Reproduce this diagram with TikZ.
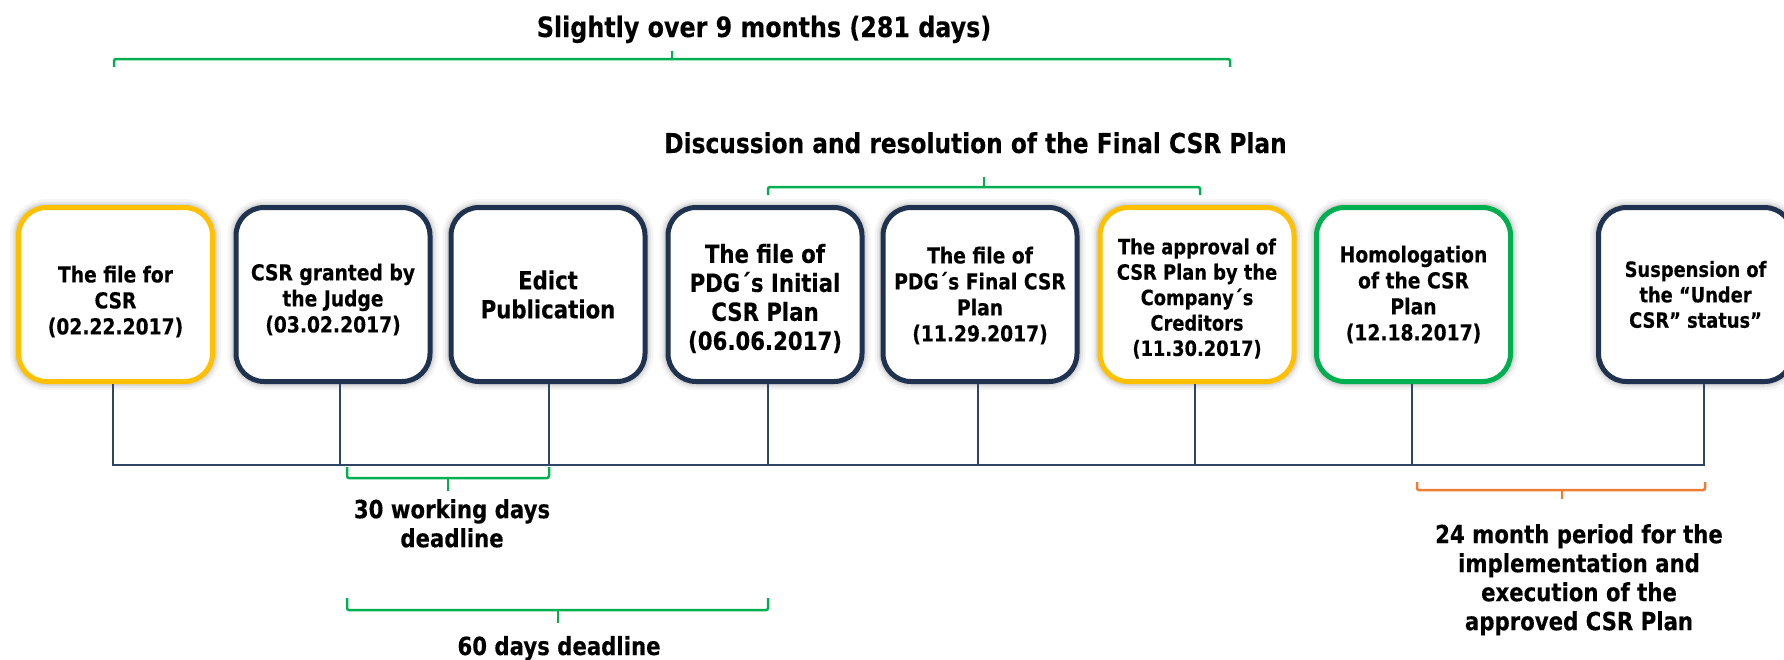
\documentclass[tikz,border=0pt]{standalone}
\usepackage{fontspec}
\setmainfont{DejaVu Sans}[FakeStretch=0.85, BoldFeatures={FakeBold=0.3}]
\definecolor{navy}{HTML}{1F3350}
\definecolor{tline}{HTML}{2E4566}
\definecolor{gold}{HTML}{FFC000}
\definecolor{grn}{HTML}{00B050}
\definecolor{orng}{HTML}{ED7D31}
\begin{document}
\begin{tikzpicture}[x=1pt,y=1pt,
  evbox/.style={draw=navy, line width=5pt, rounded corners=28pt, fill=white,
    minimum width=194pt, minimum height=174pt, inner sep=0pt,
    preaction={draw=black, draw opacity=0.04, line width=17pt},
    preaction={draw=black, draw opacity=0.06, line width=12pt},
    preaction={draw=black, draw opacity=0.08, line width=8pt}},
  boxtxt/.style={inner sep=0pt, align=center, font=\bfseries\fontsize{22}{26}\selectfont},
  bigtxt/.style={font=\bfseries\fontsize{25}{29}\selectfont},
  smalltxt/.style={font=\bfseries\fontsize{21}{25.4}\selectfont},
  title/.style={font=\bfseries\fontsize{28}{32}\selectfont, inner sep=0pt},
  lbl/.style={font=\bfseries\fontsize{25}{29}\selectfont, inner sep=0pt, align=center},
  brk/.style={line width=2.5pt, rounded corners=2pt},
  tl/.style={draw=tline, line width=1.6pt}]
\useasboundingbox (0,0) rectangle (1784,-659);

% event boxes
\node[evbox, draw=gold] (b1) at (115.5,-294.5) {};
\node[evbox] (b2) at (333,-294.5) {};
\node[evbox] (b3) at (548,-294.5) {};
\node[evbox] (b4) at (765,-294.5) {};
\node[evbox] (b5) at (980,-294.5) {};
\node[evbox, draw=gold] (b6) at (1197,-294.5) {};
\node[evbox, draw=grn] (b7) at (1413.5,-294.5) {};
\node[evbox] (b8) at (1695.5,-294.5) {};

% box texts
\node[boxtxt] (b1t) at ([yshift=-7]b1.center) {The file for\\CSR\\(02.22.2017)};
\node[boxtxt] (b2t) at ([yshift=-5]b2.center) {CSR granted by\\the Judge\\(03.02.2017)};
\node[boxtxt, bigtxt] (b3t) at (b3.center) {Edict\\Publication};
\node[boxtxt, bigtxt] (b4t) at ([yshift=-4]b4.center) {The file of\\PDG´s Initial\\CSR Plan\\(06.06.2017)};
\node[boxtxt] (b5t) at ([yshift=-1]b5.center) {The file of\\PDG´s Final CSR\\Plan\\(11.29.2017)};
\node[boxtxt, smalltxt] (b6t) at ([yshift=-4]b6.center) {The approval of\\CSR Plan by the\\Company´s\\Creditors\\(11.30.2017)};
\node[boxtxt] (b7t) at (b7.center) {Homologation\\of the CSR\\Plan\\(12.18.2017)};
\node[boxtxt, smalltxt] (b8t) at (b8.center) {Suspension of\\the “Under\\CSR” status”};

% timeline
\coordinate (t1) at (113,-465);
\coordinate (t2) at (340,-465);
\coordinate (t3) at (549,-465);
\coordinate (t4) at (768,-465);
\coordinate (t5) at (978,-465);
\coordinate (t6) at (1195,-465);
\coordinate (t7) at (1412,-465);
\coordinate (t8) at (1704,-465);
\foreach \i in {1,...,8}{\draw[tl] (t\i |- b\i.south) -- (t\i);}
\draw[tl, line cap=rect] (t1) -- (t8);

% titles
\node[title, anchor=base] (ttl1) at (764,-37) {Slightly over 9 months (281 days)};
\node[title, anchor=base, font=\bfseries\fontsize{27.4}{32}\selectfont] (ttl2) at (975.5,-153) {Discussion and resolution of the Final CSR Plan};

% brackets
\draw[brk, draw=grn] (114,-67) -- (114,-59) -- (1230,-59) -- (1230,-67);
\draw[brk, draw=grn] (672,-59) -- (672,-51);
\draw[brk, draw=grn] (768,-195) -- (768,-187) -- (1200,-187) -- (1200,-195);
\draw[brk, draw=grn] (984,-187) -- (984,-177);
\draw[brk, draw=grn] (347,-467) -- (347,-478) -- (549,-478) -- (549,-467);
\draw[brk, draw=grn] (448,-478) -- (448,-491);
\draw[brk, draw=grn] (347,-598) -- (347,-610) -- (768,-610) -- (768,-598);
\draw[brk, draw=grn] (558,-610) -- (558,-623);
\draw[brk, draw=orng] (1417,-482) -- (1417,-490) -- (1705,-490) -- (1705,-482);
\draw[brk, draw=orng] (1562,-490) -- (1562,-499);

% labels
\node[lbl, anchor=north] (l30) at (452,-499) {30 working days\\deadline};
\node[lbl, anchor=base] (l60) at (559,-655) {60 days deadline};
\node[lbl, anchor=north] (l24) at (1579,-524) {24 month period for the\\implementation and\\execution of the\\approved CSR Plan};
\end{tikzpicture}
\end{document}
